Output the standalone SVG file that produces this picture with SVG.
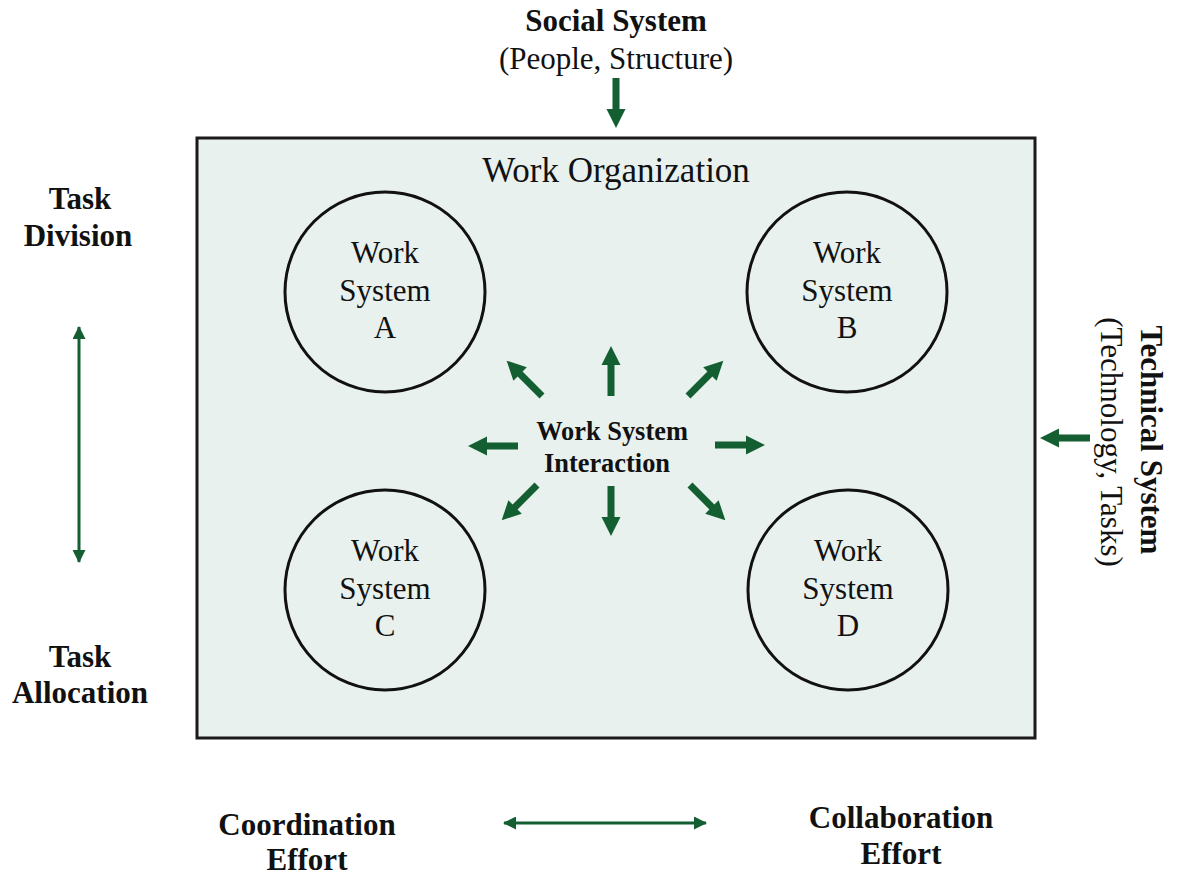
<svg xmlns="http://www.w3.org/2000/svg" width="1182" height="879" viewBox="0 0 1182 879">
  <style>
    .reg { font-family: "Liberation Serif", "Times New Roman", serif; fill: #111; font-size: 31px; }
    .bold { font-family: "Liberation Serif", "Times New Roman", serif; font-weight: bold; fill: #111; font-size: 31px; }
    .frame { fill: #e8f1ee; stroke: #1a1a1a; stroke-width: 3; }
    .ws { fill: none; stroke: #111; stroke-width: 3; }
    .thin { stroke: #145f31; stroke-width: 3; fill: none; }
    .fat { fill: #145f31; }
  </style>
  <defs>
    <!-- block arrow pointing right, tail at origin -->
    <path id="fatArrow" class="fat" d="M0,-3.5 H31 V-9.5 L50,0 L31,9.5 V3.5 H0 Z"/>
    <marker id="headEnd" viewBox="0 0 13 13" refX="12" refY="6.5" markerWidth="13" markerHeight="13" markerUnits="userSpaceOnUse" orient="auto">
      <path d="M0,0 L13,6.5 L0,13 Z" fill="#145f31"/>
    </marker>
    <marker id="headStart" viewBox="0 0 13 13" refX="1" refY="6.5" markerWidth="13" markerHeight="13" markerUnits="userSpaceOnUse" orient="auto">
      <path d="M13,0 L0,6.5 L13,13 Z" fill="#145f31"/>
    </marker>
  </defs>

  <!-- outer frame -->
  <g id="work-organization">
    <rect class="frame" x="197" y="138" width="838" height="600"/>
    <text class="reg" x="616" y="182" style="font-size:35px" text-anchor="middle">Work Organization</text>
  </g>

  <g id="social-system">
    <text class="bold" x="616" y="31" text-anchor="middle">Social System</text>
    <text class="reg" x="616" y="69" text-anchor="middle">(People, Structure)</text>
  </g>

  <g id="technical-system">
    <text class="bold" transform="translate(1141,440) rotate(90)" text-anchor="middle">Technical System</text>
    <text class="reg" transform="translate(1101,442) rotate(90)" text-anchor="middle">(Technology, Tasks)</text>
  </g>

  <g id="task-division">
    <text class="bold" x="80" y="209" text-anchor="middle">Task</text>
    <text class="bold" x="78" y="246" text-anchor="middle">Division</text>
  </g>

  <g id="task-allocation">
    <text class="bold" x="80" y="667" text-anchor="middle">Task</text>
    <text class="bold" x="80" y="703" text-anchor="middle">Allocation</text>
  </g>

  <g id="coordination-effort">
    <text class="bold" x="307" y="835" text-anchor="middle">Coordination</text>
    <text class="bold" x="307" y="870" text-anchor="middle">Effort</text>
  </g>

  <g id="collaboration-effort">
    <text class="bold" x="901" y="828" text-anchor="middle">Collaboration</text>
    <text class="bold" x="901" y="864" text-anchor="middle">Effort</text>
  </g>

  <g id="work-system-a">
    <circle class="ws" cx="385" cy="292" r="100"/>
    <text class="reg" x="385" y="263" text-anchor="middle">Work</text>
    <text class="reg" x="385" y="301" text-anchor="middle">System</text>
    <text class="reg" x="385" y="338" text-anchor="middle">A</text>
  </g>

  <g id="work-system-b">
    <circle class="ws" cx="847" cy="292" r="100"/>
    <text class="reg" x="847" y="263" text-anchor="middle">Work</text>
    <text class="reg" x="847" y="301" text-anchor="middle">System</text>
    <text class="reg" x="847" y="338" text-anchor="middle">B</text>
  </g>

  <g id="work-system-c">
    <circle class="ws" cx="385" cy="590" r="100"/>
    <text class="reg" x="385" y="561" text-anchor="middle">Work</text>
    <text class="reg" x="385" y="599" text-anchor="middle">System</text>
    <text class="reg" x="385" y="636" text-anchor="middle">C</text>
  </g>

  <g id="work-system-d">
    <circle class="ws" cx="848" cy="590" r="100"/>
    <text class="reg" x="848" y="561" text-anchor="middle">Work</text>
    <text class="reg" x="848" y="599" text-anchor="middle">System</text>
    <text class="reg" x="848" y="636" text-anchor="middle">D</text>
  </g>

  <g id="work-system-interaction">
    <text class="bold" x="612" y="440" style="font-size:26.4px" text-anchor="middle">Work System</text>
    <text class="bold" x="607" y="472" style="font-size:26.4px" text-anchor="middle">Interaction</text>
  </g>

  <!-- connectors -->
  <g id="connectors">
    <use href="#fatArrow" transform="translate(616,78) rotate(90)"/>
    <use href="#fatArrow" transform="translate(1090,438) rotate(180)"/>

    <use href="#fatArrow" transform="translate(611,396) rotate(-90)"/>
    <use href="#fatArrow" transform="translate(611,486) rotate(90)"/>
    <use href="#fatArrow" transform="translate(518,446) rotate(180)"/>
    <use href="#fatArrow" transform="translate(715,445)"/>
    <use href="#fatArrow" transform="translate(542,396) rotate(-135)"/>
    <use href="#fatArrow" transform="translate(688,396) rotate(-45)"/>
    <use href="#fatArrow" transform="translate(537,485) rotate(135)"/>
    <use href="#fatArrow" transform="translate(690,485) rotate(45)"/>

    <line class="thin" x1="79" y1="327" x2="79" y2="562" marker-start="url(#headStart)" marker-end="url(#headEnd)"/>
    <line class="thin" x1="504" y1="823" x2="706" y2="823" marker-start="url(#headStart)" marker-end="url(#headEnd)"/>
  </g>
</svg>
